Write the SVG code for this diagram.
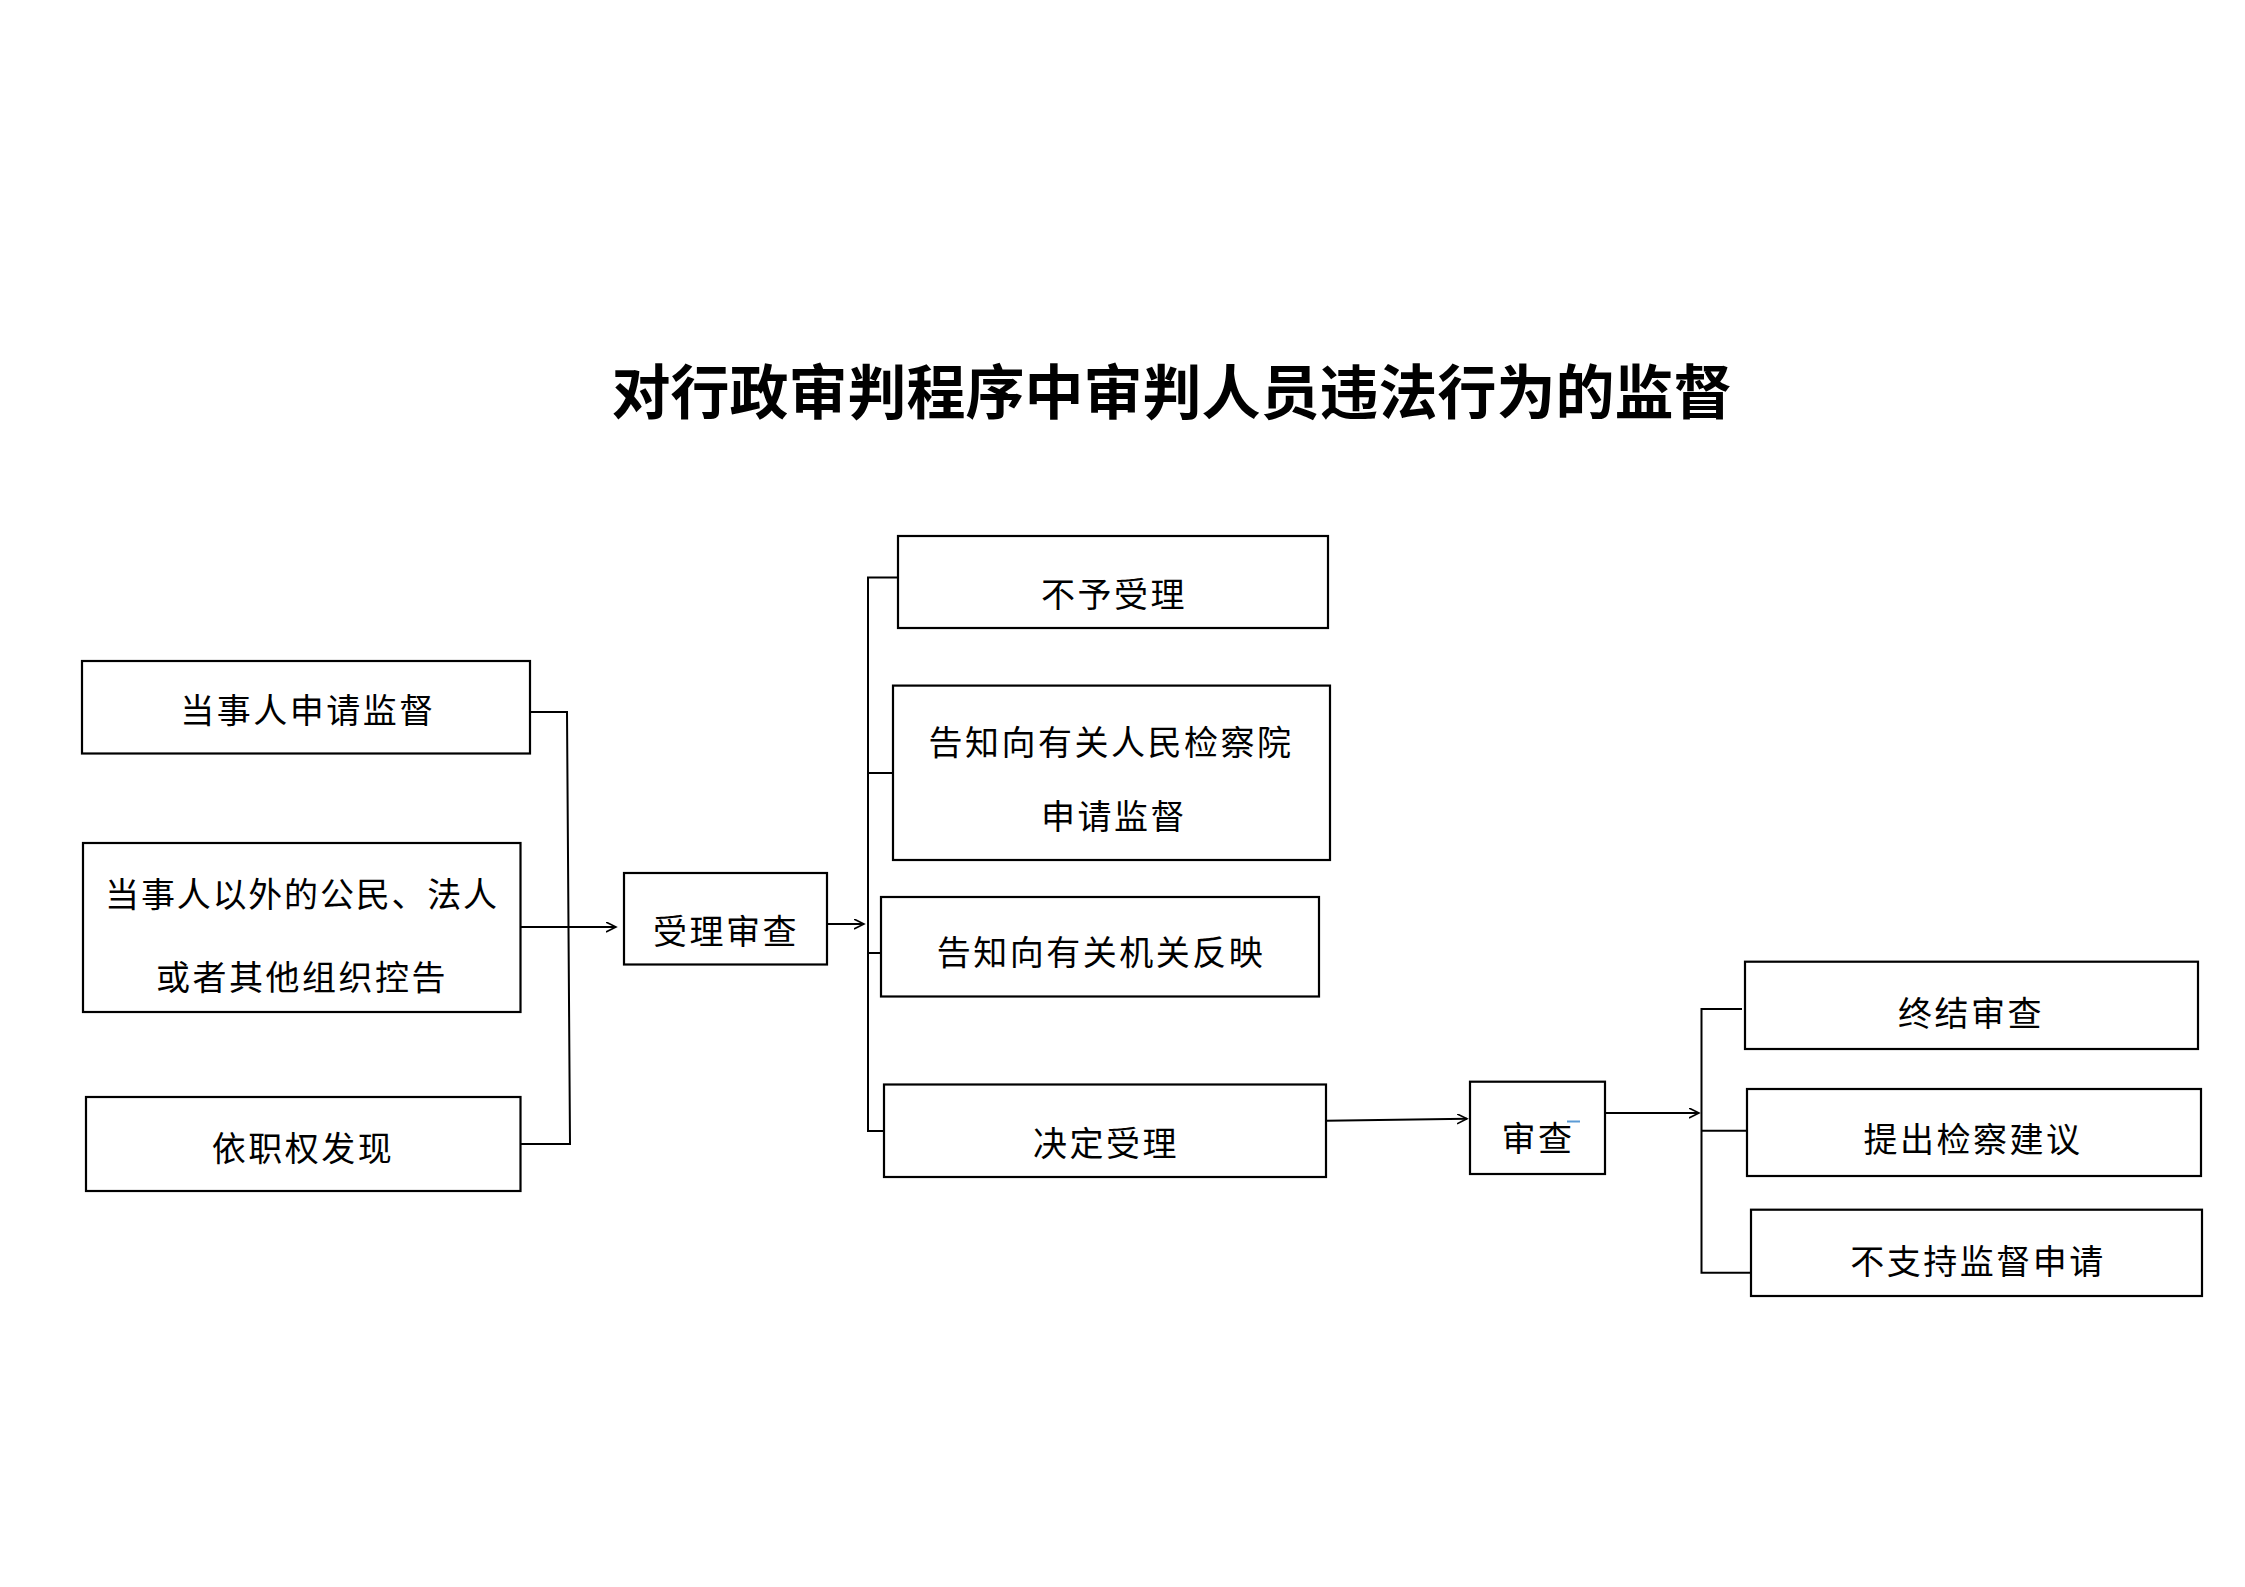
<svg xmlns="http://www.w3.org/2000/svg" width="2245" height="1587" viewBox="0 0 2245 1587">
<style>
.box{fill:#fff;stroke:#000;stroke-width:2.2}
.t{font-family:"Noto Sans CJK SC","Noto Sans CJK TC",sans-serif;font-size:34px;letter-spacing:2.5px;text-anchor:middle;fill:#000}
.t2{letter-spacing:1.8px}
.title{font-family:"Noto Sans CJK SC","Noto Sans CJK TC",sans-serif;font-size:59px;font-weight:bold;text-anchor:middle;fill:#000}
.c{fill:none;stroke:#000;stroke-width:2}
</style>
<defs>
<marker id="arr" markerWidth="12" markerHeight="12" refX="10" refY="5" orient="auto" markerUnits="userSpaceOnUse">
<path d="M0,0 L10,5 L0,10" fill="none" stroke="#000" stroke-width="1.6"/>
</marker>
</defs>
<rect width="2245" height="1587" fill="#fff"/>
<text class="title" x="1172" y="414">对行政审判程序中审判人员违法行为的监督</text>

<g id="connectors">
<path class="c" d="M530,712 H567 L570,1144 H520.5"/>
<path class="c" d="M520.5,927 H616" marker-end="url(#arr)"/>
<path class="c" d="M827,924 H864" marker-end="url(#arr)"/>
<path class="c" d="M898,577.5 H868 V1131 H884"/>
<path class="c" d="M868,773 H893"/>
<path class="c" d="M868,953 H881"/>
<path class="c" d="M1326,1120.7 L1467,1118.7" marker-end="url(#arr)"/>
<path class="c" d="M1605,1113 H1699" marker-end="url(#arr)"/>
<path class="c" d="M1742,1009 H1701.5 V1272.7 H1751"/>
<path class="c" d="M1701.5,1130.7 H1747"/>
</g>

<g id="n1"><rect class="box" x="82" y="661" width="448" height="92.5"/><text class="t" x="308" y="723">当事人申请监督</text></g>
<g id="n2"><rect class="box" x="83" y="843" width="437.5" height="169"/><text class="t t2" x="302" y="907">当事人以外的公民、法人</text><text class="t" x="302" y="990">或者其他组织控告</text></g>
<g id="n3"><rect class="box" x="86" y="1097" width="434.5" height="94"/><text class="t" x="303" y="1161">依职权发现</text></g>
<g id="n4"><rect class="box" x="624" y="873" width="203" height="91.5"/><text class="t" x="726" y="944">受理审查</text></g>
<g id="n5"><rect class="box" x="898" y="536" width="430" height="92"/><text class="t" x="1114" y="607">不予受理</text></g>
<g id="n6"><rect class="box" x="893" y="685.6" width="437" height="174.4"/><text class="t" x="1111" y="755">告知向有关人民检察院</text><text class="t" x="1114" y="829">申请监督</text></g>
<g id="n7"><rect class="box" x="881" y="897" width="438" height="99.5"/><text class="t" x="1101" y="965">告知向有关机关反映</text></g>
<g id="n8"><rect class="box" x="884" y="1084.5" width="442" height="92.5"/><text class="t" x="1106" y="1156">决定受理</text></g>
<g id="n9"><rect class="box" x="1470" y="1081.7" width="135" height="92.3"/><text class="t" x="1538" y="1151">审查</text><rect x="1567" y="1120.5" width="13" height="2" fill="#5b9bd5"/></g>
<g id="n10"><rect class="box" x="1745" y="961.7" width="453" height="87.3"/><text class="t" x="1971" y="1026">终结审查</text></g>
<g id="n11"><rect class="box" x="1747" y="1089" width="454" height="87"/><text class="t" x="1973" y="1152">提出检察建议</text></g>
<g id="n12"><rect class="box" x="1751" y="1209.7" width="451" height="86.3"/><text class="t" x="1978" y="1274">不支持监督申请</text></g>
</svg>
